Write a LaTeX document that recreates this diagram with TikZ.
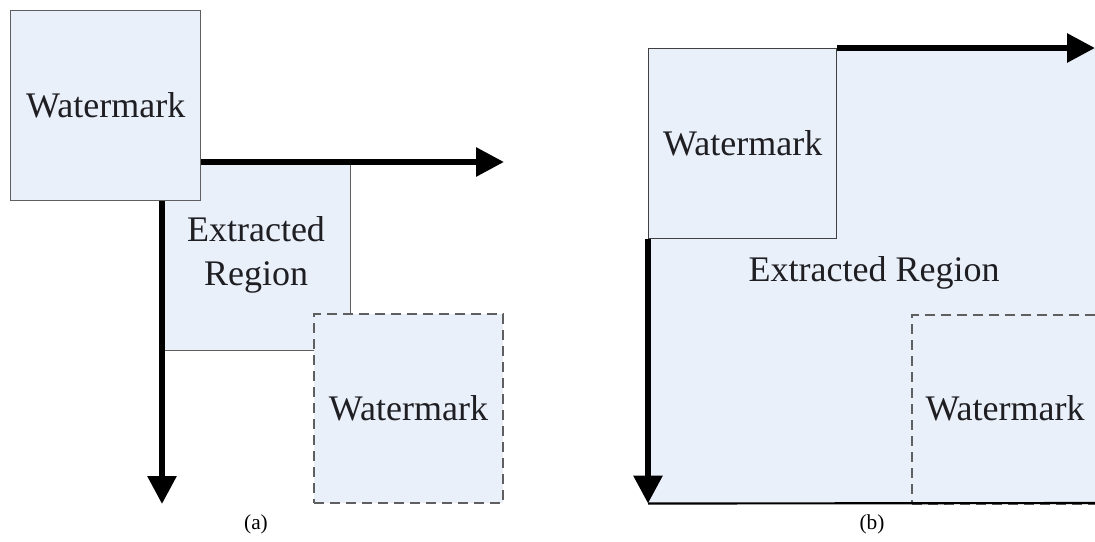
\documentclass[tikz,border=0pt]{standalone}
\usepackage{fontspec}
\setmainfont{Liberation Serif}
\usetikzlibrary{arrows.meta}
\definecolor{regionfill}{RGB}{234,240,249}
\definecolor{boxline}{RGB}{95,95,95}
\definecolor{dashline}{RGB}{95,95,95}
\definecolor{textcol}{RGB}{30,30,35}
\tikzset{
  every node/.style={text=textcol},
  wmbox/.style={draw=boxline, line width=1.1pt, fill=regionfill, inner sep=0pt,
    anchor=north west, font=\fontsize{27}{30}\selectfont},
  regionbox/.style={draw=boxline, line width=1pt, fill=regionfill, inner sep=0pt,
    anchor=north west, font=\fontsize{27}{32}\selectfont, align=center},
  ghostbox/.style={draw=dashline, line width=1.5pt, fill=regionfill, inner sep=0pt,
    anchor=north west, dash pattern=on 7.5pt off 4.5pt,
    font=\fontsize{27}{30}\selectfont},
  axis/.style={line width=4.5pt, -{Triangle[length=21pt,width=21pt]}},
  caption/.style={font=\fontsize{16}{19}\selectfont, text=black}
}
\begin{document}
\begin{tikzpicture}[x=0.75pt, y=-0.75pt]
\useasboundingbox (0,0) rectangle (1095,542);

% ---------- (a) ----------
\node[regionbox, minimum width=188*0.75pt, minimum height=188*0.75pt] (exA) at (162,162) {};
\node at (256,255) [font=\fontsize{27}{33}\selectfont, align=center] (exAtext) {Extracted\\Region};
\node[ghostbox, minimum width=189*0.75pt, minimum height=189*0.75pt] (wmA2) at (313,313) {};
\node at (wmA2.center) [font=\fontsize{27}{30}\selectfont] (wmA2text) {Watermark};
\node[wmbox, minimum width=190*0.75pt, minimum height=190*0.75pt] (wmA) at (10,10) {Watermark};

\draw[axis] (wmA.east |- exA.north) -- (wmA2.east |- exA.north);
\draw[axis] (exA.west |- wmA.south) -- (exA.west |- wmA2.south);

\node[caption] (capA) at (256,524) {(a)};

% ---------- (b) ----------
\begin{scope}
\clip (0,0) rectangle (1095,542);
\node[fill=regionfill, inner sep=0pt, anchor=north west,
      minimum width=460*0.75pt, minimum height=455*0.75pt] (regB) at (648,48) {};
\node[ghostbox, minimum width=189*0.75pt, minimum height=189*0.75pt] (wmB2) at (911,314) {};
\end{scope}
\node at (1005,408) [font=\fontsize{27}{30}\selectfont] (wmB2text) {Watermark};
\node at (874,273) [font=\fontsize{27}{30}\selectfont] (exBtext) {Extracted Region};
\node[wmbox, draw=black!75, minimum width=188*0.75pt, minimum height=190*0.75pt] (wmB) at (648,48) {Watermark};

\coordinate (tipB) at (1095,48);
\draw[line width=1.6pt] (regB.south west) -- (1095,503);
\draw[axis] (wmB.north east) -- (tipB);
\draw[axis] (wmB.south west) -- (regB.south west);

\node[caption] (capB) at (872,524) {(b)};
\end{tikzpicture}
\end{document}
